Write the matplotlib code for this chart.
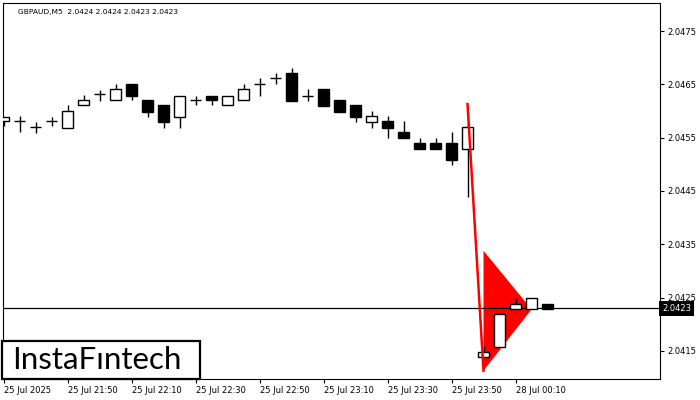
import matplotlib
matplotlib.use("Agg")
import matplotlib.pyplot as plt
from matplotlib.patches import Rectangle, Polygon
from matplotlib.transforms import blended_transform_factory

# GBPAUD M5 candles (index 0 = 25 Jul 21:30)
opens = [2.04581, 2.04581, 2.04570, 2.04581, 2.04569, 2.04611, 2.04631, 2.04620,
         2.04651, 2.04620, 2.04611, 2.04589, 2.04620, 2.04629, 2.04611, 2.04620,
         2.04651, 2.04661, 2.04671, 2.04629, 2.04641, 2.04620, 2.04611, 2.04580,
         2.04581, 2.04561, 2.04540, 2.04540, 2.04540, 2.04529, 2.04138, 2.04158,
         2.04229, 2.04229, 2.04239]
highs = [2.04589, 2.04591, 2.04580, 2.04589, 2.04611, 2.04630, 2.04640, 2.04651,
         2.04651, 2.04620, 2.04611, 2.04629, 2.04629, 2.04629, 2.04629, 2.04651,
         2.04661, 2.04671, 2.04681, 2.04641, 2.04641, 2.04620, 2.04611, 2.04600,
         2.04591, 2.04581, 2.04550, 2.04550, 2.04561, 2.04579, 2.04159, 2.04219,
         2.04249, 2.04249, 2.04239]
lows = [2.04571, 2.04560, 2.04559, 2.04571, 2.04569, 2.04611, 2.04619, 2.04620,
        2.04620, 2.04589, 2.04569, 2.04569, 2.04611, 2.04611, 2.04611, 2.04620,
        2.04629, 2.04651, 2.04619, 2.04619, 2.04610, 2.04599, 2.04579, 2.04569,
        2.04550, 2.04550, 2.04529, 2.04529, 2.04499, 2.04439, 2.04138, 2.04158,
        2.04229, 2.04229, 2.04229]
closes = [2.04589, 2.04581, 2.04570, 2.04581, 2.04600, 2.04620, 2.04631, 2.04641,
          2.04629, 2.04599, 2.04580, 2.04629, 2.04620, 2.04620, 2.04629, 2.04641,
          2.04651, 2.04661, 2.04619, 2.04629, 2.04610, 2.04599, 2.04589, 2.04591,
          2.04569, 2.04550, 2.04529, 2.04529, 2.04509, 2.04570, 2.04148, 2.04219,
          2.04239, 2.04249, 2.04229]

# bearish pennant drawing
pole_x = [29, 30]
pole_y = [2.04613, 2.04113]
flag_x = [30, 30, 33]
flag_y = [2.04338, 2.04113, 2.04228]

last_price = 2.0423
title = "GBPAUD,M5  2.0424 2.0424 2.0423 2.0423"

xtick_pos = [0, 4, 8, 12, 16, 20, 24, 28, 32]
xtick_labels = ["25 Jul 2025", "25 Jul 21:50", "25 Jul 22:10", "25 Jul 22:30",
                "25 Jul 22:50", "25 Jul 23:10", "25 Jul 23:30", "25 Jul 23:50",
                "28 Jul 00:10"]
ytick_pos = [2.0415, 2.0425, 2.0435, 2.0445, 2.0455, 2.0465, 2.0475]

W, H = 700, 400
fig = plt.figure(figsize=(7, 4), dpi=100)
ax = fig.add_axes([2.7 / W, 21 / H, (660 - 2.7) / W, 376 / H])

body_w = 0.64
lw = 1.0

# Pennant triangle behind everything
ax.add_patch(Polygon(list(zip(flag_x, flag_y)), closed=True, facecolor="red",
                     edgecolor="none", zorder=1))

# Current price line
ax.axhline(last_price, color="black", lw=0.9, zorder=2)

for i, (o, h, l, c) in enumerate(zip(opens, highs, lows, closes)):
    ax.plot([i, i], [l, h], color="black", lw=lw, zorder=3, solid_capstyle="butt")
    if o == c:
        ax.plot([i - body_w / 2, i + body_w / 2], [o, o], color="black", lw=lw,
                zorder=4, solid_capstyle="butt")
    else:
        face = "white" if c > o else "black"
        ax.add_patch(Rectangle((i - body_w / 2, min(o, c)), body_w, abs(c - o),
                               facecolor=face, edgecolor="black", lw=lw, zorder=4))

# Pennant pole
ax.plot(pole_x, pole_y, color="red", lw=1.8, zorder=5)

ax.set_xlim(-0.05, 41.03)
ax.set_ylim(2.040975, 2.048025)

ax.yaxis.tick_right()
ax.set_yticks(ytick_pos)
ax.set_yticklabels([f"{v:.4f}" for v in ytick_pos])
ax.set_xticks(xtick_pos)
ax.set_xticklabels(xtick_labels)
for lbl in ax.get_xticklabels():
    lbl.set_horizontalalignment("left")
ax.tick_params(axis="both", direction="out", length=3, width=0.8,
               labelsize=6, pad=2)
for sp in ax.spines.values():
    sp.set_linewidth(0.8)

# Current price tag on the axis
trans = blended_transform_factory(ax.transAxes, ax.transData)
ax.text(1.003, last_price, f"{last_price:.4f}", transform=trans, fontsize=6,
        color="white", va="center", ha="left",
        bbox=dict(boxstyle="square,pad=0.35", facecolor="black", edgecolor="none"))

fig.text(18 / W, 1 - 12 / H, title, fontsize=5.4, va="center", ha="left")

# Logo
fig.patches.append(Rectangle((2 / W, 21 / H), 198 / W, 38 / H,
                             transform=fig.transFigure, facecolor="white",
                             edgecolor="black", lw=1.6, zorder=10))
fig.text(97 / W, 1 - 360 / H, "InstaFıntech", fontsize=22.5, family="Lato",
         ha="center", va="center", zorder=11)

fig.savefig("out.png", dpi=100)
